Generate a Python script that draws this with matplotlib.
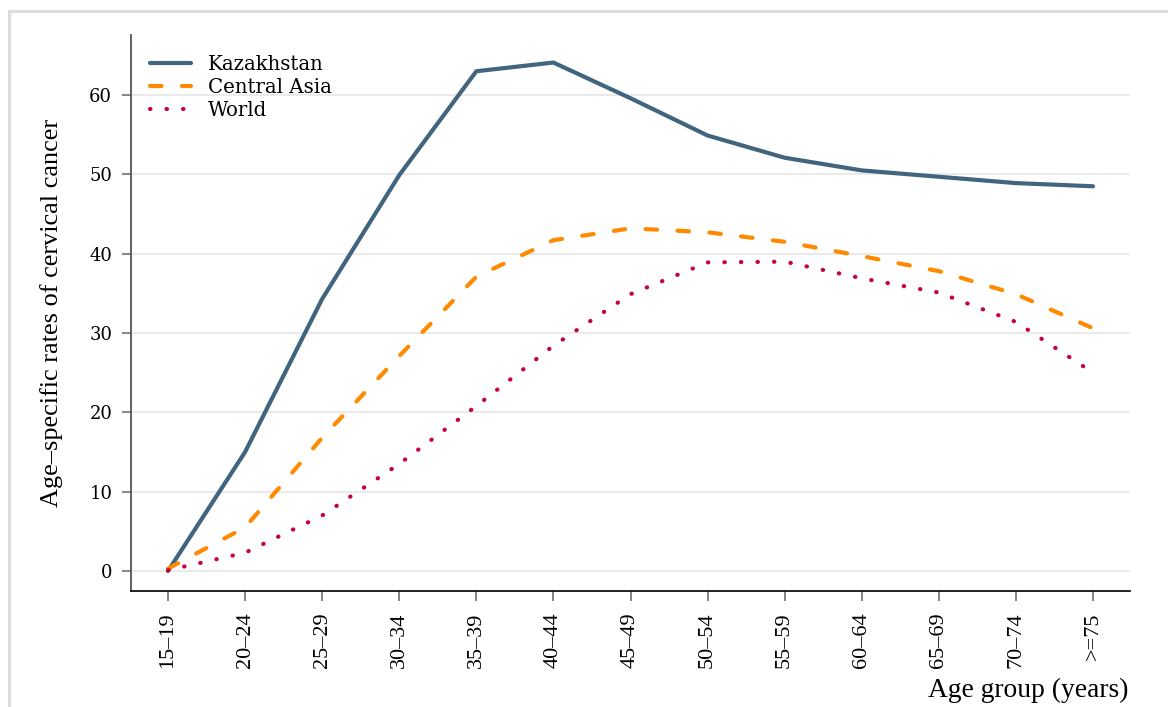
import matplotlib
matplotlib.use("Agg")
import matplotlib.pyplot as plt
from matplotlib.patches import Rectangle

plt.rcParams["lines.scale_dashes"] = False

age_groups = ["15\u201319", "20\u201324", "25\u201329", "30\u201334", "35\u201339", "40\u201344",
              "45\u201349", "50\u201354", "55\u201359", "60\u201364", "65\u201369", "70\u201374", ">=75"]
kazakhstan = [0.0, 15.0, 34.3, 49.9, 63.0, 64.1, 59.6, 54.9, 52.1, 50.5, 49.7, 48.9, 48.5]
central_asia = [0.3, 5.5, 16.8, 27.1, 37.1, 41.7, 43.2, 42.7, 41.5, 39.7, 37.8, 34.9, 30.6]
world = [0.1, 2.3, 7.0, 13.5, 20.8, 28.4, 34.9, 38.9, 39.0, 36.9, 35.1, 31.4, 25.0]
y_ticks = [0, 10, 20, 30, 40, 50, 60]

W, H = 1168, 707
fig = plt.figure(figsize=(W / 100, H / 100), dpi=100)
fig.patch.set_facecolor("white")

# light outer frame
fig.add_artist(Rectangle((9 / W, -0.1), 1.2, 1 - 11 / H + 0.1, transform=fig.transFigure,
                         fill=False, edgecolor="#dcdcdc", linewidth=2.2))

ax = fig.add_axes([131 / W, 1 - 591 / H, (1130 - 131) / W, (591 - 35) / H])
x = list(range(len(age_groups)))

lw = 3.0
ax.plot(x, kazakhstan, color="#41657f", linewidth=lw, solid_capstyle="round",
        solid_joinstyle="round", label="Kazakhstan", zorder=3)
ax.plot(x, central_asia, color="#ff8a00", linewidth=lw, dashes=(8.3, 14.7),
        dash_capstyle="round", label="Central Asia", zorder=3)
ax.plot(x, world, color="#c8003c", linewidth=lw, dashes=(0.3, 11.6),
        dash_capstyle="round", label="World", zorder=3)

ax.set_xlim(-0.48, 12.48)
ax.set_ylim(-2.52, 67.57)
ax.set_yticks(y_ticks)
ax.set_yticklabels([str(v) for v in y_ticks], family="DejaVu Serif", fontsize=13)
ax.set_xticks(x)
ax.set_xticklabels(age_groups, rotation=90, family="Liberation Serif", fontsize=16)

ax.grid(axis="y", color="#e6e6e6", linewidth=1.2, zorder=0)
ax.set_axisbelow(True)
for s in ["top", "right"]:
    ax.spines[s].set_visible(False)
ax.spines["left"].set_color("#555555")
ax.spines["left"].set_linewidth(1.3)
ax.spines["bottom"].set_color("#111111")
ax.spines["bottom"].set_linewidth(1.3)
ax.tick_params(axis="y", length=6.5, width=1.1, color="#666666", pad=7)
ax.tick_params(axis="x", length=7.5, width=1.1, color="#666666", pad=8)

leg = ax.legend(loc="upper left", bbox_to_anchor=(0.005, 0.989), frameon=False,
                prop={"family": "DejaVu Serif", "size": 14.2},
                handlelength=2.1, handletextpad=0.85, labelspacing=0.2, borderaxespad=0.3)

fig.text(1128 / W, 1 - 697 / H, "Age group (years)", ha="right", va="baseline",
         family="Liberation Serif", fontsize=19.8)
fig.text(52 / W, 1 - 313 / H, "Age\u2013specific rates of cervical cancer", rotation=90,
         ha="center", va="center", family="Liberation Serif", fontsize=18.9)

fig.savefig("out.png", dpi=100, facecolor="white")
